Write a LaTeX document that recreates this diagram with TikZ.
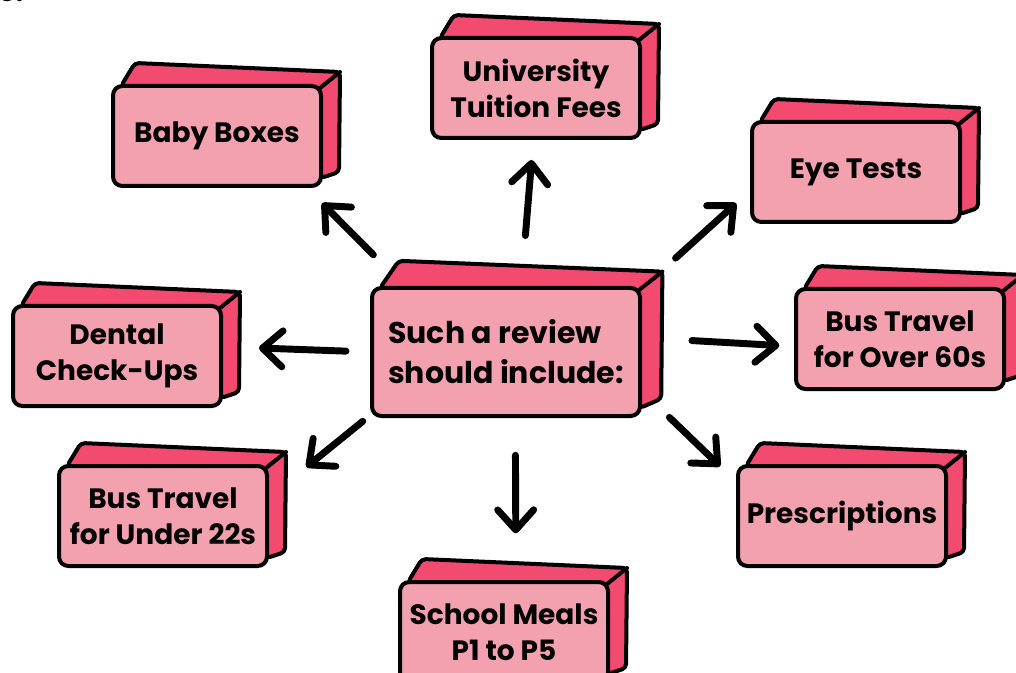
\documentclass[tikz,border=0pt]{standalone}
\usepackage{fontspec}
\setmainfont{Poppins}
\usetikzlibrary{arrows.meta,calc,backgrounds}
\definecolor{facepink}{HTML}{F4A1AF}
\definecolor{sidepink}{HTML}{F34A70}
\tikzset{
	block/.style={draw=black,line width=3pt,fill=facepink,rounded corners=7pt,inner sep=0pt,align=center},
	item/.style={minimum width=156pt,minimum height=75pt,font=\fontsize{21}{27}\selectfont\bfseries},
	hub/.style={minimum width=201pt,minimum height=96pt,align=left,font=\fontsize{22.5}{30}\selectfont\bfseries},
	side/.style={draw=black,line width=3pt,fill=sidepink,line join=round,rounded corners=3pt},
	pointer/.style={line width=5.2pt,line cap=round,line join=round,-{Straight Barb[length=15pt,width=27pt,round]}}
}
\begin{document}
\begin{tikzpicture}[x=0.75pt,y=-0.75pt]
		\useasboundingbox (0,0) rectangle (1016,673);
		\node[anchor=base west,font=\fontsize{21}{27}\selectfont\bfseries,inner sep=0pt] (frag) at (-2,2) {e.};
		\foreach \n/\x/\y/\s/\k/\t in {c/506/352/hub/1.2/{Such a review\\should include:},b1/217/136/item/1/Baby Boxes,b2/536/88/item/1/{University\\Tuition Fees},b3/856/172/item/1/Eye Tests,b4/900/339/item/1/{Bus Travel\\for Over 60s},b5/842/516/item/1/Prescriptions,b6/504/632/item/1/{School Meals\\P1 to P5},b7/163/516/item/1/{Bus Travel\\for Under 22s},b8/117/356/item/1/{Dental\\Check-Ups}} {
			\node[block,\s] (\n) at (\x,\y) {\t};
			\begin{pgfonlayer}{background}
				\draw[side] ($(\n.north west)+(10,2)$) -- ($(\n.north west)+(24*\k,-21*\k)$) -- ($(\n.north east)+(17*\k,-12*\k)$) -- ($(\n.south east)+(16*\k,-16*\k)$) -- ($(\n.south east)+(-2,-10)$) -- cycle;
				\draw[line width=3pt,line cap=round] ($(\n.north east)+(-8,8)$) -- ($(\n.north east)+(17*\k,-12*\k)$);
			\end{pgfonlayer}
		}
		\foreach \m/\p/\q/\s/\e in {b1/147/-30/33/16,b2/77/267.5/38/15,b3/25/190/34/14,b4/6.5/184/37.5/11,b5/-16.6/162/28.5/16.5,b6/-82/77.6/28/35,b7/205/10/7/36,b8/180.4/5.2/18/27} \draw[pointer,shorten <=\s pt,shorten >=\e pt] (c.\p) -- (\m.\q);
	\end{tikzpicture}
\end{document}
